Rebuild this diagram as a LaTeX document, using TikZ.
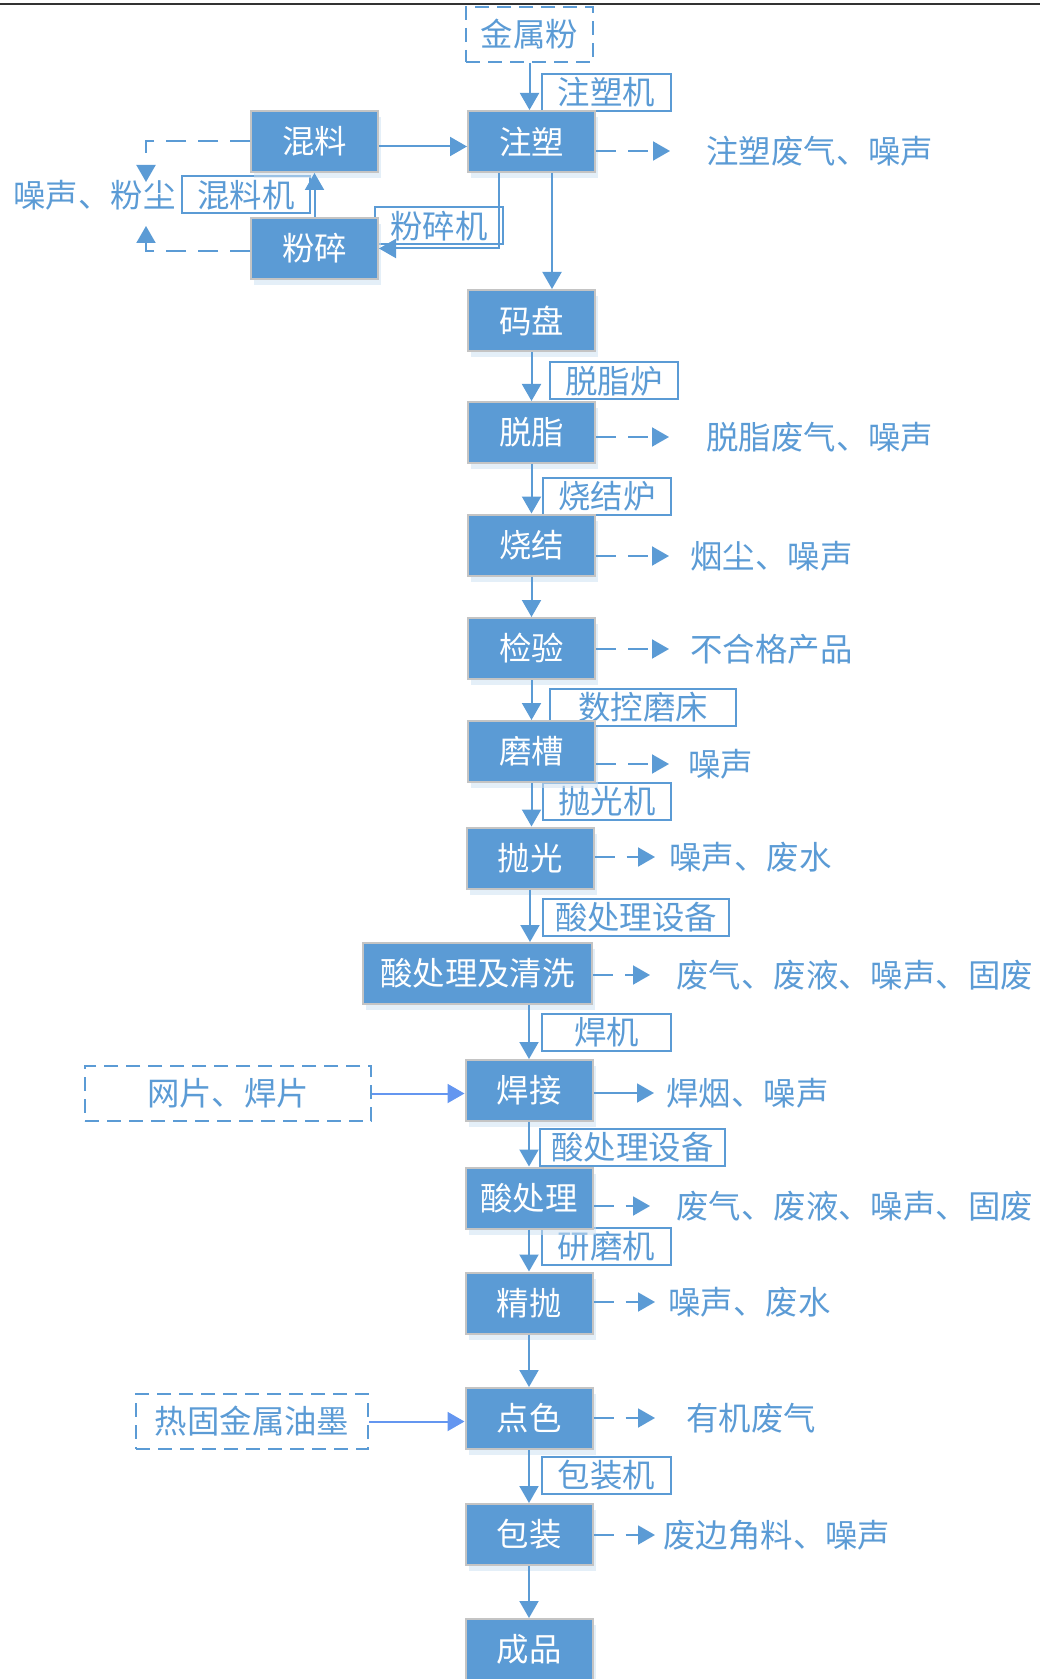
\documentclass[tikz,border=0pt]{standalone}
\usepackage{fontspec}
\setmainfont{Noto Sans CJK SC}
\usepackage{xcolor}
\definecolor{procblue}{RGB}{91, 155, 213}
\definecolor{procedge}{RGB}{196, 196, 196}
\definecolor{feedblue}{RGB}{100, 150, 240}
\definecolor{rulegray}{RGB}{50, 50, 50}
\usepackage{tikz}
\usetikzlibrary{arrows.meta, positioning, calc, shadows}

\begin{document}
\begin{tikzpicture}[x=0.5pt, y=-0.5pt, >={Triangle[length=8.5pt, width=9.5pt]},
    font=\fontsize{16.2}{19}\selectfont,
    procbox/.style={rectangle, fill=procblue, draw=procedge, line width=1pt, text=white,
        minimum width=63.5pt, minimum height=30.5pt, inner sep=0pt,
        drop shadow={shadow xshift=1.5pt, shadow yshift=-3pt, fill=procblue!30, opacity=0.55}},
    toolbox/.style={rectangle, fill=white, draw=procblue, line width=1pt, text=procblue,
        minimum width=64pt, minimum height=18.5pt, inner sep=0pt},
    feedbox/.style={rectangle, draw=procblue, line width=1pt, dash pattern=on 7pt off 4pt,
        text=procblue, minimum height=27.5pt, inner sep=0pt},
    outtext/.style={anchor=west, text=procblue, inner sep=0pt},
    mainflow/.style={->, draw=procblue, line width=1pt},
    wasteflow/.style={->, draw=procblue, line width=1pt, dash pattern=on 10pt off 6pt},
    feedflow/.style={->, draw=feedblue, line width=1pt}]
    \useasboundingbox (0,0) rectangle (1040,1679);
    \draw[rulegray, line width=1pt] (0,4) -- (1040,4);

    \node[toolbox, minimum width=64.5pt] (injm) at (606.5,92.5) {注塑机};
    \node[toolbox] (mixm) at (246,195) {混料机};
    \node[toolbox] (crushm) at (439,226) {粉碎机};
    \node[toolbox] (debindm) at (614,381) {脱脂炉};
    \node[toolbox] (sinterm) at (607,496.5) {烧结炉};
    \node[toolbox, minimum width=93pt] (grindm) at (643,707.5) {数控磨床};
    \node[toolbox] (polishm) at (607,801) {抛光机};
    \node[toolbox, minimum width=93pt] (acidm) at (636,917) {酸处理设备};
    \node[toolbox, minimum width=64.5pt] (weldm) at (606.5,1032.5) {焊机};
    \node[toolbox, minimum width=92.5pt] (acidmm) at (632.5,1147.5) {酸处理设备};
    \node[toolbox, minimum width=64.5pt] (lapm) at (606.5,1246.5) {研磨机};
    \node[toolbox, minimum width=64.5pt] (packm) at (606.5,1475.5) {包装机};

    \node[feedbox, minimum width=63.5pt] (powder) at (529.5,34.5) {金属粉};
    \node[feedbox, minimum width=143pt] (mesh) at (228,1093.5) {网片、焊片};
    \node[feedbox, minimum width=116pt] (ink) at (252,1421.5) {热固金属油墨};

    \node[procbox] (inject) at (531.5,141.5) {注塑};
    \node[procbox] (mix) at (314.5,141.5) {混料};
    \node[procbox] (crush) at (314.5,248.5) {粉碎};
    \node[procbox] (tray) at (531.5,320.5) {码盘};
    \node[procbox] (debind) at (531.5,432.5) {脱脂};
    \node[procbox] (sinter) at (531.5,545) {烧结};
    \node[procbox] (inspect) at (531.5,648.5) {检验};
    \node[procbox] (groove) at (531.5,751.5) {磨槽};
    \node[procbox] (polish) at (530,858) {抛光};
    \node[procbox, minimum width=114.5pt] (acidwash) at (477.5,973.5) {酸处理及清洗};
    \node[procbox] (weld) at (529,1090.5) {焊接};
    \node[procbox] (acid) at (529,1198) {酸处理};
    \node[procbox] (finepolish) at (529,1303) {精抛};
    \node[procbox] (dotpaint) at (529,1418.5) {点色};
    \node[procbox] (pack) at (529,1534.5) {包装};
    \node[procbox] (product) at (529,1649.5) {成品};

    \node[outtext] (dust) at (13,195) {噪声、粉尘};
    \node[outtext] (injout) at (706,151) {注塑废气、噪声};
    \node[outtext] (debindout) at (706,437) {脱脂废气、噪声};
    \node[outtext] (sinterout) at (690,556) {烟尘、噪声};
    \node[outtext] (inspectout) at (690,649) {不合格产品};
    \node[outtext] (grooveout) at (688,764) {噪声};
    \node[outtext] (polishout) at (669,857) {噪声、废水};
    \node[outtext] (acidwashout) at (676,975) {废气、废液、噪声、固废};
    \node[outtext] (weldout) at (666,1093) {焊烟、噪声};
    \node[outtext] (acidout) at (676,1206) {废气、废液、噪声、固废};
    \node[outtext] (finepolishout) at (668,1302) {噪声、废水};
    \node[outtext] (dotout) at (686,1418) {有机废气};
    \node[outtext] (packout) at (663,1535) {废边角料、噪声};

    \coordinate (dustup) at (146,182);
    \coordinate (dustdown) at (146,226);

    \draw[mainflow] (powder.south) -- (powder.south |- inject.north);
    \draw[mainflow] ([yshift=-2.5pt]mix.east) -- ([yshift=-2.5pt]inject.west);
    \draw[mainflow] ([xshift=10.25pt]inject.south) -- ([xshift=10.25pt]tray.north);
    \draw[mainflow] ([xshift=-16.25pt]inject.south) |- (crush.east);
    \draw[mainflow] (crush.north) -- (mix.south);
    \draw[wasteflow] (mix.west) -| (dustup);
    \draw[wasteflow] ([yshift=-1.25pt]crush.west) -| (dustdown);

    \foreach \a/\b in {tray/debind, debind/sinter, sinter/inspect, inspect/groove, groove/polish,
        polish/acidwash, weld/acid, acid/finepolish, finepolish/dotpaint, dotpaint/pack, pack/product}
        \draw[mainflow] (\a.south) -- (\a.south |- \b.north);
    \draw[mainflow] (weld.north |- acidwash.south) -- (weld.north);

    \foreach \a/\b/\s in {inject/injout/18pt, debind/debindout/18.5pt, sinter/sinterout/10.5pt,
        inspect/inspectout/10.5pt, groove/grooveout/9.5pt, polish/polishout/7pt,
        acidwash/acidwashout/13pt, acid/acidout/13pt, finepolish/finepolishout/6.5pt,
        dotpaint/dotout/15.5pt, pack/packout/4pt}
        \draw[wasteflow, shorten >=\s] (\a.east |- \b.west) -- (\b.west);
    \draw[mainflow, shorten >=6pt] (weld.east |- weldout.west) -- (weldout.west);

    \draw[feedflow] (mesh.east) -- (mesh.east -| weld.west);
    \draw[feedflow] (ink.east) -- (ink.east -| dotpaint.west);
\end{tikzpicture}
\end{document}
